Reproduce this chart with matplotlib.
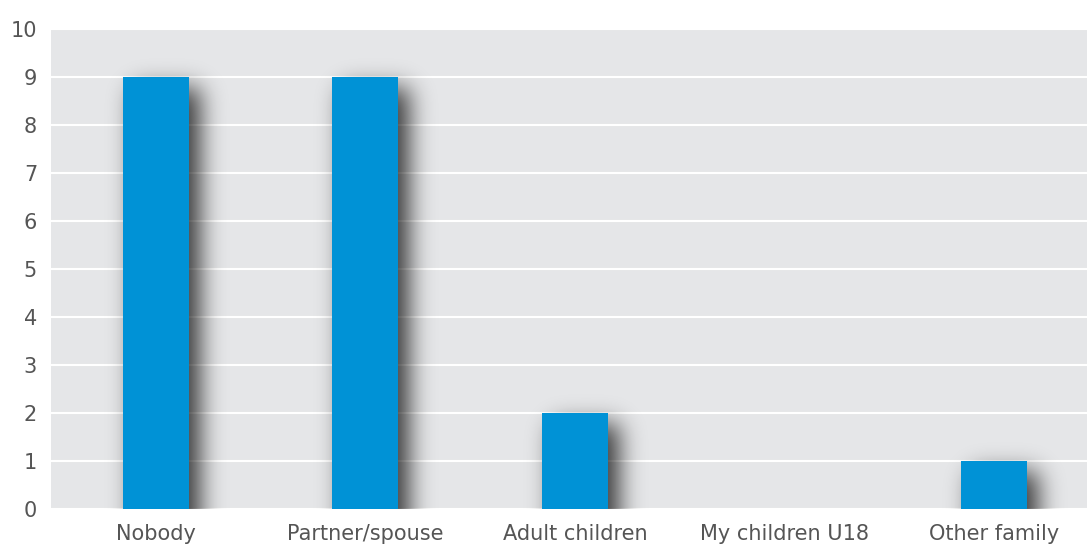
import matplotlib
matplotlib.use("Agg")
import matplotlib.pyplot as plt
import numpy as np

categories = ["Nobody", "Partner/spouse", "Adult children", "My children U18", "Other family"]
values = [9, 9, 2, 0, 1]
yticks = [0, 1, 2, 3, 4, 5, 6, 7, 8, 9, 10]

plt.rcParams['font.family'] = ['DejaVu Sans']

W, H = 1087, 545
AX_L, AX_R, AX_T, AX_B = 51, 1087, 29, 509
fig = plt.figure(figsize=(W / 100, H / 100), dpi=100)
ax = fig.add_axes([AX_L / W, (H - AX_B) / H, (AX_R - AX_L) / W, (AX_B - AX_T) / H])
ax.set_facecolor("#e5e6e8")

n = len(categories)
x = np.arange(n)
xlim = (-0.501, 4.444)
ylim = (0, 10)
ax.set_xlim(*xlim)
ax.set_ylim(*ylim)

nx, ny = AX_R - AX_L, AX_B - AX_T
px_x = (xlim[1] - xlim[0]) / nx
px_y = (ylim[1] - ylim[0]) / ny
bw = 0.315

# soft blurred drop shadow computed on a pixel grid in data coordinates
off, sigma = 11, 12.0
pad = 50
gx = xlim[0] + (np.arange(-pad, nx + pad) + 0.5) * px_x
gy = ylim[0] + (np.arange(-pad, ny + pad) + 0.5) * px_y
GX, GY = np.meshgrid(gx, gy)
mask = np.zeros_like(GX)
for xi, v in zip(x, values):
    if v <= 0:
        continue
    x0 = xi - bw / 2 + off * px_x
    x1 = xi + bw / 2 + off * px_x
    y1 = v - off * px_y
    mask[(GX >= x0) & (GX <= x1) & (GY <= y1)] = 1.0
k = np.arange(-int(3 * sigma), int(3 * sigma) + 1)
kern = np.exp(-k ** 2 / (2 * sigma ** 2))
kern /= kern.sum()
blur = np.apply_along_axis(lambda r: np.convolve(r, kern, mode="same"), 1, mask)
blur = np.apply_along_axis(lambda c: np.convolve(c, kern, mode="same"), 0, blur)
blur = blur[pad:-pad, pad:-pad]
rgba = np.zeros(blur.shape + (4,))
rgba[..., 3] = 0.76 * blur
ax.imshow(rgba, extent=(xlim[0], xlim[1], ylim[0], ylim[1]), origin="lower",
          aspect="auto", zorder=2, interpolation="bilinear")

ax.bar(x, values, width=bw, color="#0092d6", linewidth=0, zorder=3)

ax.set_xlim(*xlim)
ax.set_ylim(*ylim)
ax.set_yticks(yticks)
ax.yaxis.grid(True, color="white", linewidth=1.5, zorder=1)
ax.set_axisbelow(True)
ax.set_xticks(x)
ax.set_xticklabels(categories)
for s in ax.spines.values():
    s.set_visible(False)
ax.tick_params(axis="both", length=0, labelsize=15, labelcolor="#555555")
ax.tick_params(axis="y", pad=10)
ax.tick_params(axis="x", pad=11)

fig.savefig("out.png", dpi=100)
